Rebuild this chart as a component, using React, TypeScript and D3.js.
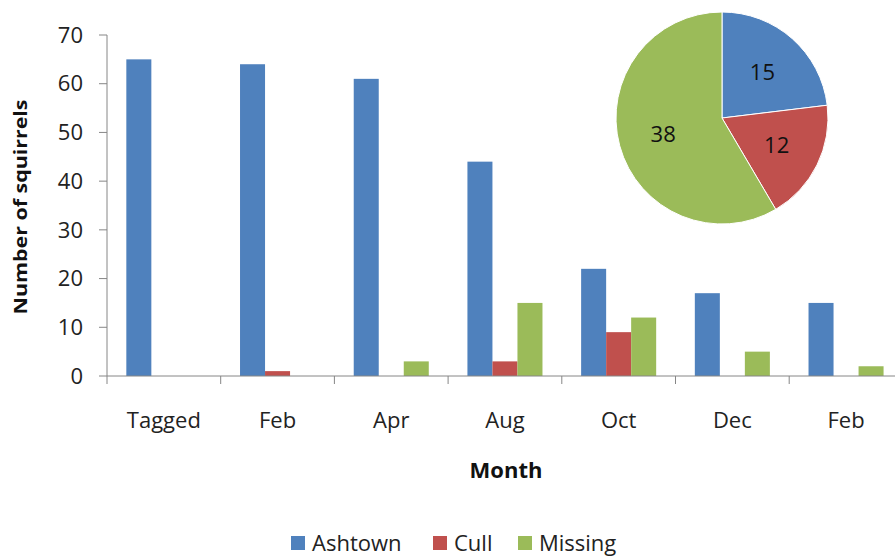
import React from 'react';
import * as d3 from 'd3';

const months = ['Tagged', 'Feb', 'Apr', 'Aug', 'Oct', 'Dec', 'Feb'];
const seriesNames = ['Ashtown', 'Cull', 'Missing'];
const ashtown = [65, 64, 61, 44, 22, 17, 15];
const cull = [0, 1, 0, 3, 9, 0, 0];
const missing = [0, 0, 3, 15, 12, 5, 2];
const pieValues = [15, 12, 38];
const yTicks = [0, 10, 20, 30, 40, 50, 60, 70];
const colors = ['#4F81BD', '#C0504D', '#9BBB59'];

const W = 895;
const H = 556;
const FONT = '"Open Sans", "DejaVu Sans", sans-serif';

const App: React.FC = () => {
  const margin = { left: 107, top: 35, bottom: 376 };
  // x axis runs off the right edge, like the original picture
  const x0 = d3.scaleBand<number>()
    .domain(months.map((_, i) => i))
    .range([margin.left, margin.left + 113.7 * 7])
    .padding(0);
  const bw = x0.bandwidth();
  const x1 = d3.scaleBand<string>()
    .domain(seriesNames)
    .range([0.17 * bw, 0.83 * bw])
    .padding(0);
  const y = d3.scaleLinear().domain([0, 70]).range([margin.bottom, margin.top]);

  const data = [ashtown, cull, missing];

  const pie = d3.pie<number>().sort(null).value(d => d)(pieValues);
  const r = 106;
  const arc = d3.arc<d3.PieArcDatum<number>>().innerRadius(0).outerRadius(r);
  const labelArc = d3.arc<d3.PieArcDatum<number>>().innerRadius(0).outerRadius(r * 1.15);

  const axisColor = '#868686';

  const legendItems = [
    { name: 'Ashtown', sq: 291, tx: 312 },
    { name: 'Cull', sq: 433, tx: 454 },
    { name: 'Missing', sq: 518, tx: 539 },
  ];

  return (
    <svg width={W} height={H} style={{ position: 'absolute', left: 0, top: 0, background: '#fff' }}
      fontFamily={FONT}>
      <rect width={W} height={H} fill="#fff" />

      {/* bars */}
      {data.map((vals, s) => (
        <g key={s} fill={colors[s]}>
          {vals.map((v, i) => v > 0 ? (
            <rect key={i}
              x={(x0(i) ?? 0) + (x1(seriesNames[s]) ?? 0)}
              y={y(v)}
              width={x1.bandwidth()}
              height={y(0) - y(v)} />
          ) : null)}
        </g>
      ))}

      {/* y axis */}
      <line x1={margin.left} x2={margin.left} y1={y(70)} y2={y(0)} stroke={axisColor} />
      {yTicks.map(t => (
        <g key={t}>
          <line x1={margin.left - 8} x2={margin.left} y1={y(t)} y2={y(t)} stroke={axisColor} />
          <text x={83} y={y(t)} dy="0.35em" textAnchor="end" fontSize={22} fill="#222">{t}</text>
        </g>
      ))}

      {/* x axis */}
      <line x1={margin.left} x2={W} y1={y(0)} y2={y(0)} stroke={axisColor} />
      {months.map((m, i) => (
        <g key={i}>
          <line x1={x0(i)} x2={x0(i)} y1={y(0)} y2={y(0) + 8} stroke={axisColor} />
          <text x={(x0(i) ?? 0) + bw / 2} y={420} dy="0.35em" textAnchor="middle" fontSize={22} fill="#222">{m}</text>
        </g>
      ))}

      {/* axis titles */}
      <text transform="translate(27,207) rotate(-90)" textAnchor="middle" fontSize={18} fontWeight="bold"
        textLength={215} lengthAdjust="spacingAndGlyphs" fill="#111">Number of squirrels</text>
      <text x={506} y={470} dy="0.35em" textAnchor="middle" fontSize={22} fontWeight="bold" fill="#111">Month</text>

      {/* pie */}
      <g transform="translate(722,118)">
        {pie.map((d, i) => (
          <path key={i} d={arc(d) ?? ''} fill={colors[i]} stroke="#fff" strokeWidth={1} />
        ))}
        {pie.map((d, i) => {
          const [cx, cy] = labelArc.centroid(d);
          return (
            <text key={i} x={cx} y={cy} dy="0.35em" textAnchor="middle" fontSize={22} fill="#111">{d.data}</text>
          );
        })}
      </g>

      {/* legend */}
      {legendItems.map((l, i) => (
        <g key={l.name}>
          <rect x={l.sq} y={536} width={14} height={14} fill={colors[i]} />
          <text x={l.tx} y={543} dy="0.35em" fontSize={22} fill="#222">{l.name}</text>
        </g>
      ))}
    </svg>
  );
};

export default App;
